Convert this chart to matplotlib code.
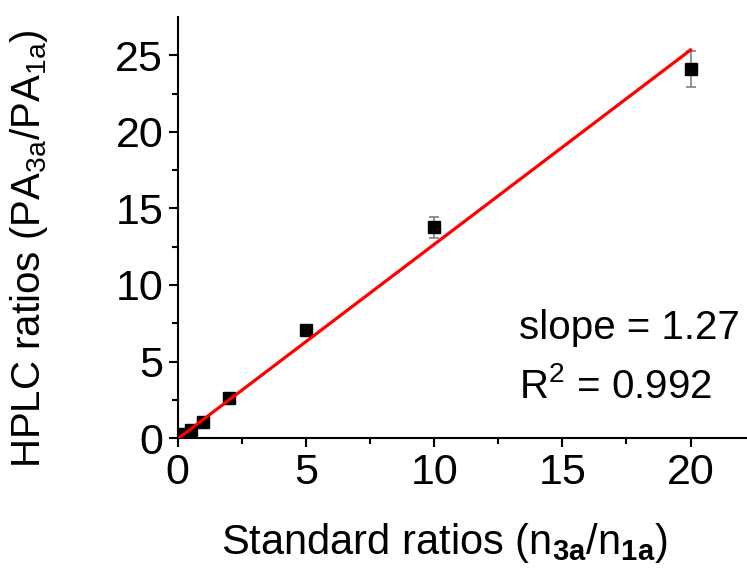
import matplotlib.pyplot as plt
import numpy as np

plt.rcParams['font.family'] = ['Liberation Sans', 'DejaVu Sans']
plt.rcParams['mathtext.fontset'] = 'custom'
plt.rcParams['mathtext.rm'] = 'Liberation Sans'
plt.rcParams['mathtext.it'] = 'Liberation Sans'
plt.rcParams['mathtext.bf'] = 'Liberation Sans:bold'

# Standard ratios vs HPLC peak area ratios
standard = [0.2, 0.5, 1, 2, 5, 10, 20]
hplc = [0.25, 0.55, 1.07, 2.6, 7.06, 13.77, 24.1]
hplc_err = [0.08, 0.1, 0.12, 0.15, 0.3, 0.69, 1.2]

# linear fit
slope = 1.27
intercept = -0.05
fit_x = np.array([0, 20])

fig = plt.figure(figsize=(7.47, 5.88), dpi=100)
ax = fig.add_axes([0.238, 0.255, 0.762, 0.716])

ax.errorbar(standard, hplc, yerr=hplc_err, fmt='s', color='black', markersize=8,
            ecolor='#808080', elinewidth=1.2, capsize=3.6, capthick=1.2, zorder=3)
ax.plot(fit_x, slope * fit_x + intercept, color='#ff0000', linewidth=2.3, zorder=4)

ax.set_xlim(0, 22.2)
ax.set_ylim(0, 27.5)
ax.set_xticks([0, 5, 10, 15, 20])
ax.set_yticks([0, 5, 10, 15, 20, 25])
ax.set_xticks(np.arange(2.5, 22.5, 5), minor=True)
ax.set_yticks(np.arange(2.5, 27.5, 5), minor=True)

for s in ['top', 'right']:
    ax.spines[s].set_visible(False)
for s in ['left', 'bottom']:
    ax.spines[s].set_linewidth(1.5)
ax.tick_params(which='major', length=6.5, width=1.5, labelsize=31, pad=4)
ax.tick_params(which='minor', length=4, width=1.5)

ax.set_xlabel(r'Standard ratios (n$_{\mathbf{3a}}$/n$_{\mathbf{1a}}$)', fontsize=30)
ax.set_ylabel(r'HPLC ratios (PA$_{3a}$/PA$_{1a}$)', fontsize=29)
ax.xaxis.set_label_coords(0.469, -0.197)
ax.yaxis.set_label_coords(-0.225, 0.45)

ax.text(13.3, 6.5, 'slope = 1.27', fontsize=29, ha='left', va='baseline')
ax.text(13.3, 2.6, r'R$^2$ = 0.992', fontsize=29, ha='left', va='baseline')

fig.savefig('out.png', dpi=100)
